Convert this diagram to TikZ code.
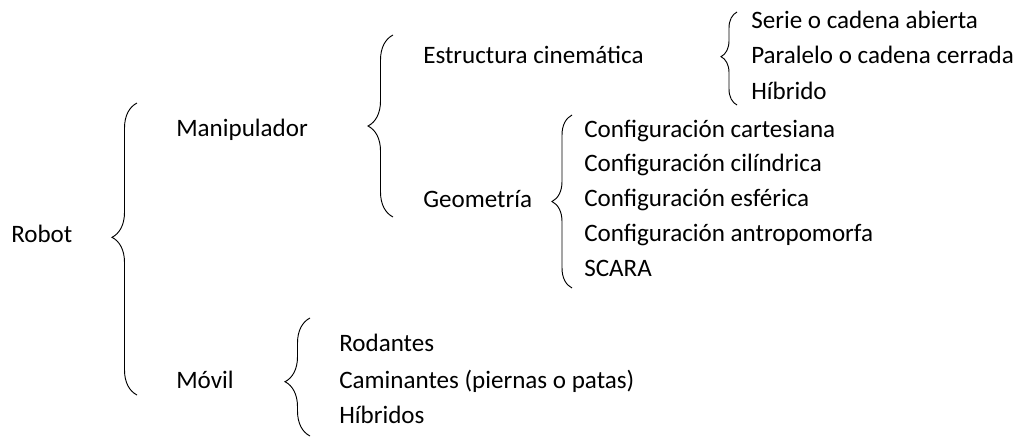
\documentclass[tikz,border=0pt]{standalone}
\usepackage{fontspec}
\setmainfont{Carlito}
\usetikzlibrary{decorations.pathreplacing}

\tikzset{
  lbl/.style={anchor=west,inner sep=0.75pt,text height=13.5pt,text depth=3.8pt,
    font=\fontsize{18.8}{22}\selectfont},
  brc/.style={decorate,decoration={brace,amplitude=#1},line width=0.7pt},
  brc/.default=15pt
}

\begin{document}
\begin{tikzpicture}[x=0.75pt,y=0.75pt,yscale=-1,xscale=1]
\path[use as bounding box] (0,0) rectangle (1023,436);

% Text Node
\node[lbl] (robot) at (10,236) {Robot};
\node[lbl] (manip) at (175,130) {Manipulador};
\node[lbl] (movil) at (175,382) {Móvil};
\node[lbl] (estr) at (422,57) {Estructura cinemática};
\node[lbl] (geom) at (422,201) {Geometría};
% Text Node
\node[lbl] (serie) at (750,22) {Serie o cadena abierta};
\node[lbl] (paral) at (750,57) {Paralelo o cadena cerrada};
\node[lbl] (hibr) at (750,93) {Híbrido};
% Text Node
\node[lbl] (cart) at (583,131) {Configuración cartesiana};
\node[lbl] (cil) at (583,165) {Configuración cilíndrica};
\node[lbl] (esf) at (583,200) {Configuración esférica};
\node[lbl] (antr) at (583,235) {Configuración antropomorfa};
\node[lbl] (scara) at (583,270) {SCARA};
% Text Node
\node[lbl] (rod) at (338,345) {Rodantes};
\node[lbl] (cam) at (338,382) {Caminantes (piernas o patas)};
\node[lbl] (hibs) at (338,417) {Híbridos};

% Braces
\coordinate (robotB) at (137,395);
\coordinate (robotT) at (137,103);
\draw[brc=18.75pt,decoration={aspect=0.54}] (robotB) -- (robotT);
\coordinate (manipB) at (393,217);
\coordinate (manipT) at (393,35);
\draw[brc=18.75pt] (manipB) -- (manipT);
\coordinate (estrB) at (737,105);
\coordinate (estrT) at (737,12);
\draw[brc=12pt,decoration={aspect=0.52}] (estrB) -- (estrT);
\coordinate (geomB) at (572,288);
\coordinate (geomT) at (572,115);
\draw[brc=15pt] (geomB) -- (geomT);
\coordinate (movilB) at (310,436);
\coordinate (movilT) at (310,318);
\draw[brc=18.75pt,decoration={aspect=0.46}] (movilB) -- (movilT);

\end{tikzpicture}
\end{document}
